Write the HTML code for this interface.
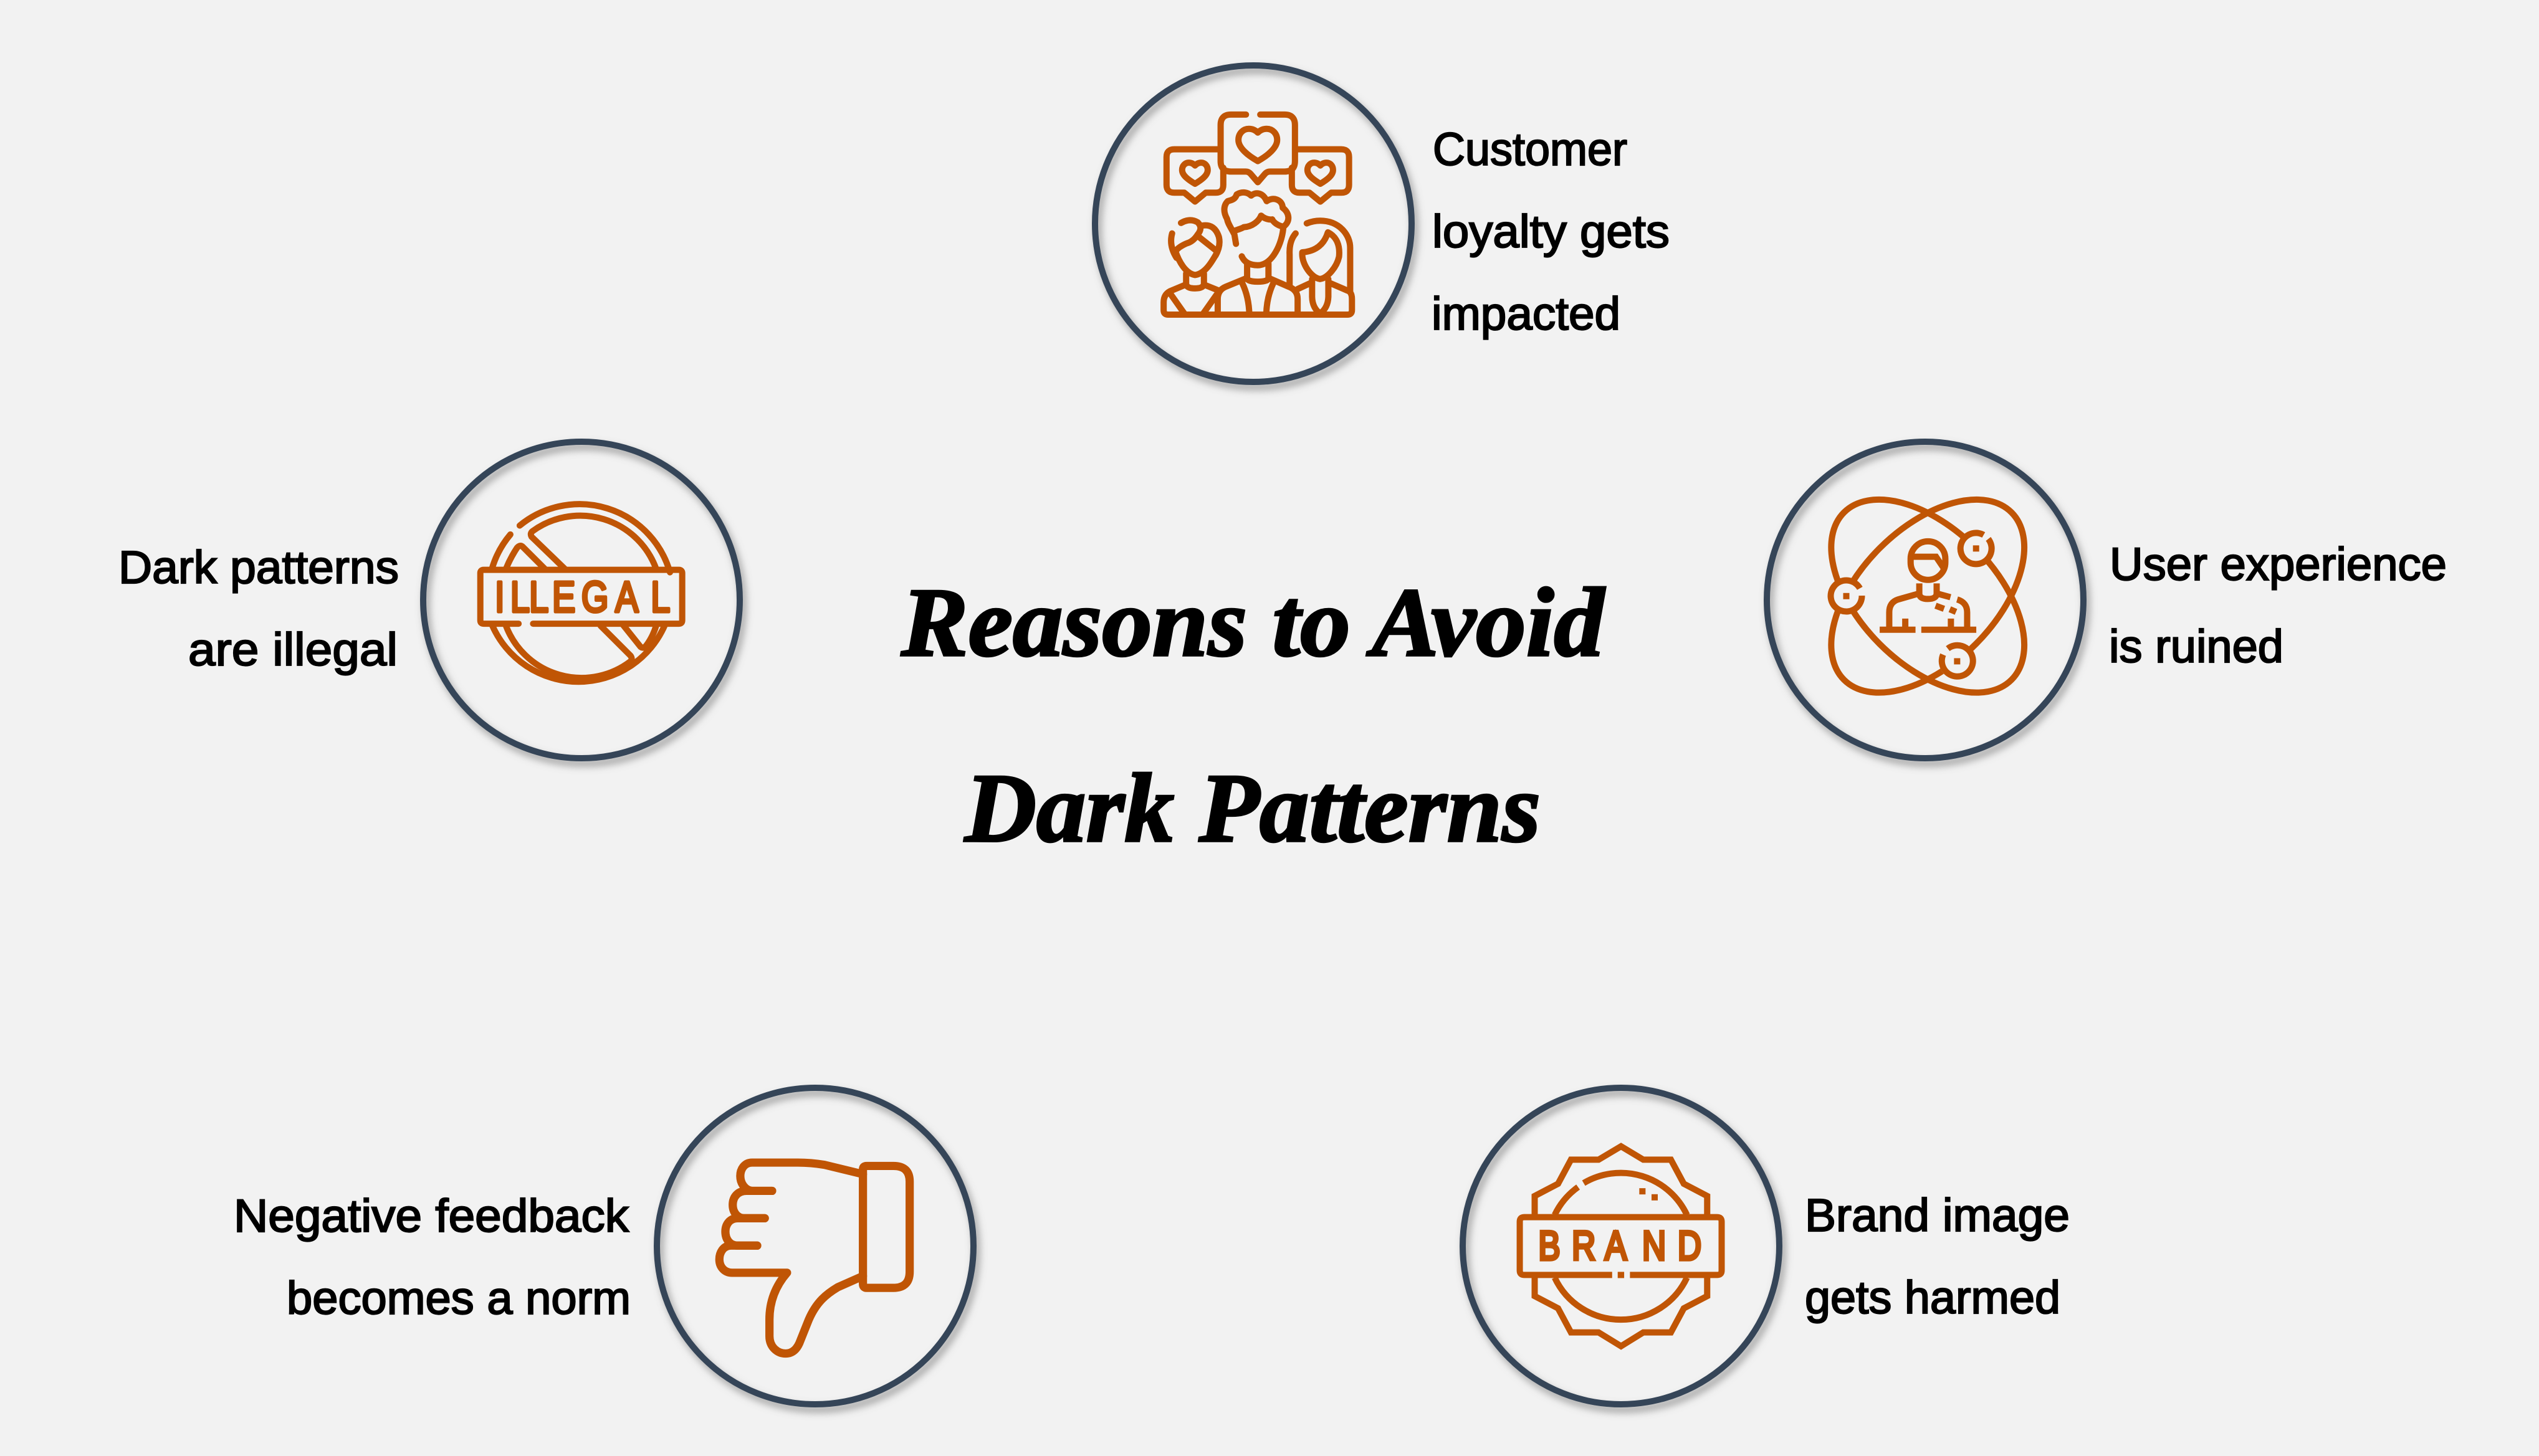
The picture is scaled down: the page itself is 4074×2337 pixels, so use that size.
<!DOCTYPE html>
<html><head><meta charset="utf-8"><style>
html,body{margin:0;padding:0;background:#f2f2f2}
svg{display:block}
.t{font-family:"Liberation Sans",sans-serif;font-size:74px;fill:#000;stroke:#000;stroke-width:2.2px}
.h{font-family:"Liberation Serif",serif;font-weight:bold;font-style:italic;font-size:158px;fill:#000;stroke:#000;stroke-width:3.5px}
.ic{fill:none;stroke:#c05505;stroke-width:28;stroke-linecap:round;stroke-linejoin:round}
.m{fill:none;stroke:#c05505;stroke-width:28;stroke-linecap:butt;stroke-linejoin:miter}
.l{font-family:"Liberation Sans",sans-serif;fill:#c05505;stroke:#c05505}
.ring{fill:none;stroke:#344558;stroke-width:10;filter:url(#sh)}
</style></head><body>
<svg xmlns="http://www.w3.org/2000/svg" width="4074" height="2337" viewBox="0 0 4074 2337">
<defs><filter id="sh" x="-15%" y="-15%" width="130%" height="130%"><feDropShadow dx="5" dy="8" stdDeviation="6" flood-color="#808080" flood-opacity="0.75"/></filter></defs>
<rect width="4074" height="2337" fill="#f2f2f2"/>

<circle class="ring" cx="2011" cy="359" r="254"/>
<circle class="ring" cx="933" cy="963" r="254"/>
<circle class="ring" cx="3089" cy="963" r="254"/>
<circle class="ring" cx="1308" cy="2000" r="254"/>
<circle class="ring" cx="2601" cy="2000" r="254"/>

<text class="h" x="1446" y="1052" textLength="1128" lengthAdjust="spacingAndGlyphs">Reasons to Avoid</text>
<text class="h" x="1548" y="1350" textLength="924" lengthAdjust="spacingAndGlyphs">Dark Patterns</text>

<text class="t" x="2299" y="265" textLength="312" lengthAdjust="spacingAndGlyphs">Customer</text>
<text class="t" x="2298" y="397" textLength="381" lengthAdjust="spacingAndGlyphs">loyalty gets</text>
<text class="t" x="2297" y="529" textLength="303" lengthAdjust="spacingAndGlyphs">impacted</text>
<text class="t" x="190" y="936" textLength="450" lengthAdjust="spacingAndGlyphs">Dark patterns</text>
<text class="t" x="302" y="1068" textLength="336" lengthAdjust="spacingAndGlyphs">are illegal</text>
<text class="t" x="3385" y="931" textLength="541" lengthAdjust="spacingAndGlyphs">User experience</text>
<text class="t" x="3384" y="1063" textLength="280" lengthAdjust="spacingAndGlyphs">is ruined</text>
<text class="t" x="375" y="1977" textLength="634" lengthAdjust="spacingAndGlyphs">Negative feedback</text>
<text class="t" x="460" y="2109" textLength="552" lengthAdjust="spacingAndGlyphs">becomes a norm</text>
<text class="t" x="2896" y="1976" textLength="425" lengthAdjust="spacingAndGlyphs">Brand image</text>
<text class="t" x="2896" y="2108" textLength="410" lengthAdjust="spacingAndGlyphs">gets harmed</text>

<!-- people -->
<g transform="translate(1720 80) scale(.35714)"><g class="ic">
<path d="M782 291H715Q668 291 668 338V500Q668 547 715 547H780Q795 547 805 560L835 595L865 560Q875 547 890 547H955Q1002 547 1002 500V338Q1002 291 955 291H846"/>
<path d="M835 500C790 475 748 440 748 405C748 375 770 355 795 355C815 355 828 365 835 372C842 365 855 355 875 355C900 355 922 375 922 405C922 440 880 475 835 500Z"/>
<path d="M668 447H460Q425 447 425 482V607Q425 642 460 642H505L553 682L601 642H646Q680 642 680 607V530"/>
<path d="M1002 447H1210Q1245 447 1245 482V607Q1245 642 1210 642H1165L1116 682L1067 642H1022Q988 642 988 607V530"/>
<path d="M553 602C525 585 495 565 495 540C495 520 510 507 525 507C538 507 548 514 553 520C558 514 568 507 581 507C596 507 610 520 610 540C610 565 581 585 553 602Z"/>
<path transform="translate(563 0)" d="M553 602C525 585 495 565 495 540C495 520 510 507 525 507C538 507 548 514 553 520C558 514 568 507 581 507C596 507 610 520 610 540C610 565 581 585 553 602Z"/>
<path d="M737 872L730 830C715 800 700 780 697 760C680 730 680 700 700 680C720 675 735 670 740 650C765 635 790 640 805 655C830 635 860 645 875 680C900 660 945 670 947 710C975 730 985 770 950 795C925 790 905 775 900 762C880 765 860 755 850 745C840 770 810 795 772 797C770 800 740 810 725 815"/>
<path d="M950 795C945 870 900 968 835 968C800 968 775 955 763 928"/>
<path d="M787 960V1025Q787 1042 835 1042Q883 1042 883 1025V960"/>
<path d="M787 1025L690 1065Q655 1080 655 1120V1190M883 1025L975 1065Q1014 1080 1014 1120V1190"/>
<path d="M765 1048Q795 1110 797 1190M905 1048Q875 1110 873 1190"/>
<path d="M512 1055L440 1085Q412 1100 412 1135V1170Q412 1190 432 1190H1238Q1258 1190 1258 1170V1120Q1258 1100 1250 1090V890C1250 830 1200 768 1115 768Q1085 768 1055 780"/>
<path d="M490 778Q530 755 565 775Q590 800 565 830Q545 862 515 870Q480 885 465 905C480 950 510 1005 553 1012C600 1005 630 950 650 915"/>
<path d="M585 790Q640 780 660 840Q670 880 645 925M572 842L645 900M450 825Q435 880 470 935"/>
<path d="M513 1005V1050Q513 1072 553 1072Q593 1072 593 1050V1005M593 1055L660 1082M445 1100L505 1185M650 1100L590 1185"/>
<path d="M1005 825Q975 860 978 920V1060"/>
<path d="M1035 910C1100 905 1135 870 1150 820C1190 840 1205 880 1200 930C1190 975 1150 1025 1115 1030C1075 1025 1030 960 1035 910Z"/>
<path d="M1079 1030V1110Q1080 1160 1115 1185Q1150 1160 1152 1110V1030M1152 1045L1245 1085M1079 1045L1014 1075"/>
</g></g>

<!-- illegal -->
<g transform="translate(660 690) scale(.35714)"><g class="ic">
<path d="M487 430A423 423 0 0 1 1162 640"/>
<path d="M445 470A423 423 0 0 0 362 625"/>
<path d="M362 875A423 423 0 0 0 1140 875"/>
<path d="M690 625L540 480Q532 465 545 455A363 363 0 0 1 1100 625"/>
<path d="M850 880L985 1015Q995 1030 985 1040A363 363 0 0 1 425 880"/>
<path d="M425 625Q445 575 475 530Q488 515 500 525L600 625"/>
<path d="M950 875L1030 975Q1042 985 1055 970Q1085 930 1100 880"/>
<path d="M482 871H325Q310 871 310 856V644Q310 629 325 629H1202Q1217 629 1217 644V856Q1217 871 1202 871H547"/>
</g><text class="l" transform="scale(.8 1)" x="469 556 662 791 955 1145 1345" y="817" font-size="196" stroke-width="14" stroke-linejoin="round">ILLEGAL</text></g>

<!-- atom -->
<g transform="translate(2810 690) scale(.35714)"><g class="m">
<ellipse cx="793" cy="747" rx="532" ry="305" transform="rotate(45 793 747)"/>
<ellipse cx="793" cy="747" rx="532" ry="305" transform="rotate(-45 793 747)"/>
</g>
<circle cx="1010" cy="533" r="82" fill="#f2f2f2"/><circle cx="427" cy="747" r="82" fill="#f2f2f2"/><circle cx="925" cy="1040" r="82" fill="#f2f2f2"/>
<g class="m">
<path d="M1065 490A70 70 0 1 1 1044 472"/>
<path d="M497 745A70 70 0 1 1 488 712"/>
<path d="M883 983A70 70 0 1 1 862 1010"/>
<rect x="716" y="501" width="156" height="173" rx="78"/>
<path d="M725 570H830L865 622"/>
<path d="M755 690V735Q755 760 793 760Q833 760 833 735V690"/>
<path d="M755 735L660 762Q620 775 620 820V898M833 735L895 752M925 762Q970 775 970 820V898"/>
<path d="M577 898H738M764 898H1011M692 848V898M897 848V898M828 790L866 804M892 806L920 818"/>
</g>
<g fill="#c05505"><rect x="996" y="519" width="28" height="28"/><rect x="413" y="733" width="28" height="28"/><rect x="911" y="1026" width="28" height="28"/></g>
</g>

<!-- thumb -->
<g transform="translate(1030 1725) scale(.35714)"><g class="ic" style="stroke-width:37">
<path d="M993 425Q993 410 1010 410H1130Q1203 410 1203 480V885Q1203 958 1130 958H1010Q993 958 993 940Z"/>
<path d="M993 447L820 405Q760 395 700 395H495C460 395 442 425 442 455C442 490 465 520 495 522H585"/>
<path d="M585 522H470C430 522 408 550 408 585C408 620 430 645 460 645H552"/>
<path d="M552 645H430C395 645 375 672 375 705C375 740 395 768 430 768H518"/>
<path d="M518 768H400C365 768 348 800 348 830C348 865 372 890 405 890H652C600 950 573 1020 573 1100V1175C573 1225 610 1253 645 1253C675 1253 695 1235 708 1205L750 1100C785 1020 830 985 880 955L993 905"/>
</g></g>

<!-- brand -->
<g transform="translate(2325 1725) scale(.35714)"><g class="m">
<path d="M385 630V545L490 490L548 382L672 382L773 322L873 382L997 382L1055 490L1160 545V630"/>
<path d="M385 912V995L490 1050L548 1158L672 1158L773 1220L873 1158L997 1158L1055 1050L1160 995V912"/>
<path d="M1069 630A328 328 0 0 0 605 487M580 505A328 328 0 0 0 475 630"/>
<path d="M475 912A328 328 0 0 0 1069 912"/>
<path d="M733 900H338Q318 900 318 880V660Q318 640 338 640H1205Q1225 640 1225 660V880Q1225 900 1205 900H813"/>
</g>
<g fill="#c05505"><rect x="758" y="886" width="29" height="28"/><rect x="855" y="510" width="28" height="28"/><rect x="910" y="537" width="28" height="28"/></g>
<text class="l" transform="scale(.8 1)" x="502 690 875 1085 1284" y="832" font-size="185" stroke-width="15">BRAND</text></g>
</svg>
</body></html>
